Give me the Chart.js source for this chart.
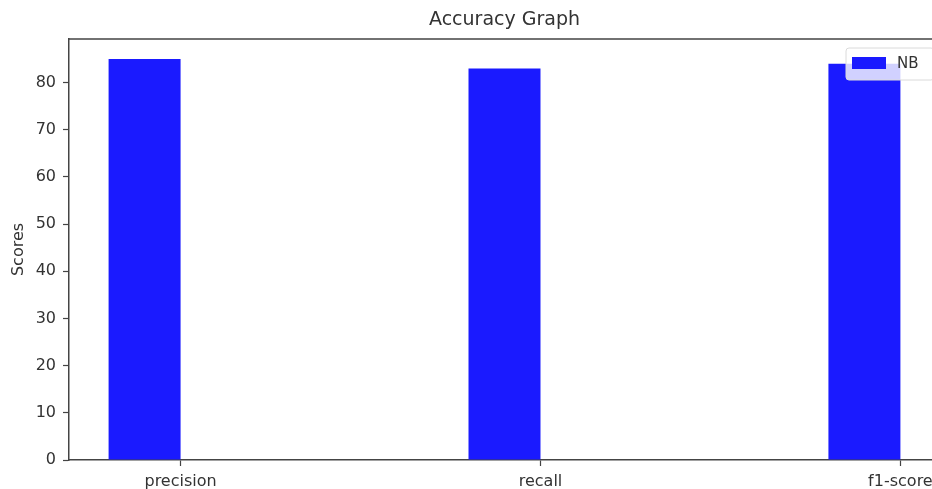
<!DOCTYPE html>
<html>
<head>
<meta charset="utf-8">
<script src="https://cdn.jsdelivr.net/npm/chart.js@4"></script>
<style>
  html, body { margin: 0; padding: 0; background: #fff; overflow: hidden; }
  #wrap { width: 932px; height: 489px; overflow: hidden; }
</style>
</head>
<body>
<div id="wrap"><canvas id="chart" width="945" height="489"></canvas></div>
<script>
const categories = ["precision", "recall", "f1-score"];
const nbScores = [85, 83, 84];
const yTicks = [0, 10, 20, 30, 40, 50, 60, 70, 80];
const seriesName = "NB";
const chartTitle = "Accuracy Graph";
const yTitle = "Scores";

const barWidth = 0.2;
const blue = "#1a1aff";
const ink = "#333";
const font = "DejaVu Sans";

// matplotlib style limits: bars sit left of the tick, 5% margins
const xLo = -barWidth, xHi = categories.length - 1;
const xPad = 0.05 * (xHi - xLo);
const yMax = Math.max(...nbScores) * 1.05;

const framePlugin = {
  id: "frame",
  afterDatasetsDraw(chart) {
    const { ctx, chartArea: a } = chart;
    ctx.save();
    // top + right spines
    ctx.strokeStyle = "#444";
    ctx.lineWidth = 1.5;
    ctx.beginPath();
    ctx.moveTo(a.left, a.top);
    ctx.lineTo(a.right, a.top);
    ctx.lineTo(a.right, a.bottom);
    ctx.stroke();

    // title
    ctx.fillStyle = ink;
    ctx.font = "19px '" + font + "'";
    ctx.textAlign = "center";
    ctx.textBaseline = "middle";
    ctx.fillText(chartTitle, (a.left + a.right) / 2, 20);

    // legend box, upper right
    const w = 88, h = 32;
    const x = a.right - 6 - w, y = a.top + 9;
    ctx.beginPath();
    ctx.roundRect(x, y, w, h, 3);
    ctx.fillStyle = "rgba(255,255,255,0.8)";
    ctx.fill();
    ctx.strokeStyle = "#dadada";
    ctx.lineWidth = 1;
    ctx.stroke();
    ctx.fillStyle = blue;
    ctx.fillRect(x + 6, y + 9, 34, 12);
    ctx.fillStyle = ink;
    ctx.font = "15px '" + font + "'";
    ctx.textAlign = "left";
    ctx.fillText(seriesName, x + 51, y + 16);
    ctx.restore();
  }
};

new Chart(document.getElementById("chart"), {
  type: "bar",
  data: {
    datasets: [{
      label: seriesName,
      data: nbScores.map((v, i) => ({ x: i - barWidth / 2, y: v })),
      backgroundColor: blue,
      borderWidth: 0,
      barPercentage: barWidth,
      categoryPercentage: 1
    }]
  },
  options: {
    responsive: false,
    animation: false,
    layout: { padding: { top: 39, right: 5, left: 0, bottom: 0 } },
    plugins: {
      legend: { display: false },
      title: { display: false },
      tooltip: { enabled: false }
    },
    scales: {
      x: {
        type: "linear",
        offset: false,
        min: xLo - xPad,
        max: xHi + xPad,
        afterBuildTicks: (s) => { s.ticks = categories.map((c, i) => ({ value: i })); },
        afterFit: (s) => { s.height = 29; },
        ticks: {
          autoSkip: false,
          maxRotation: 0,
          padding: 6,
          color: ink,
          font: { family: font, size: 16 },
          callback: (v) => categories[v]
        },
        grid: { offset: false, drawOnChartArea: false, drawTicks: true, tickLength: 6, tickColor: "#444", tickWidth: 1.2 },
        border: { display: true, color: "#444", width: 1.5 }
      },
      y: {
        min: 0,
        max: yMax,
        afterBuildTicks: (s) => { s.ticks = yTicks.map((v) => ({ value: v })); },
        afterFit: (s) => { s.width = 69; },
        ticks: {
          padding: 7,
          color: ink,
          font: { family: font, size: 16 }
        },
        title: {
          display: true,
          text: yTitle,
          color: ink,
          font: { family: font, size: 16 },
          padding: { top: 9, bottom: 0 }
        },
        grid: { drawOnChartArea: false, drawTicks: true, tickLength: 6, tickColor: "#444", tickWidth: 1.2 },
        border: { display: true, color: "#444", width: 1.5 }
      }
    }
  },
  plugins: [framePlugin]
});
</script>
</body>
</html>
